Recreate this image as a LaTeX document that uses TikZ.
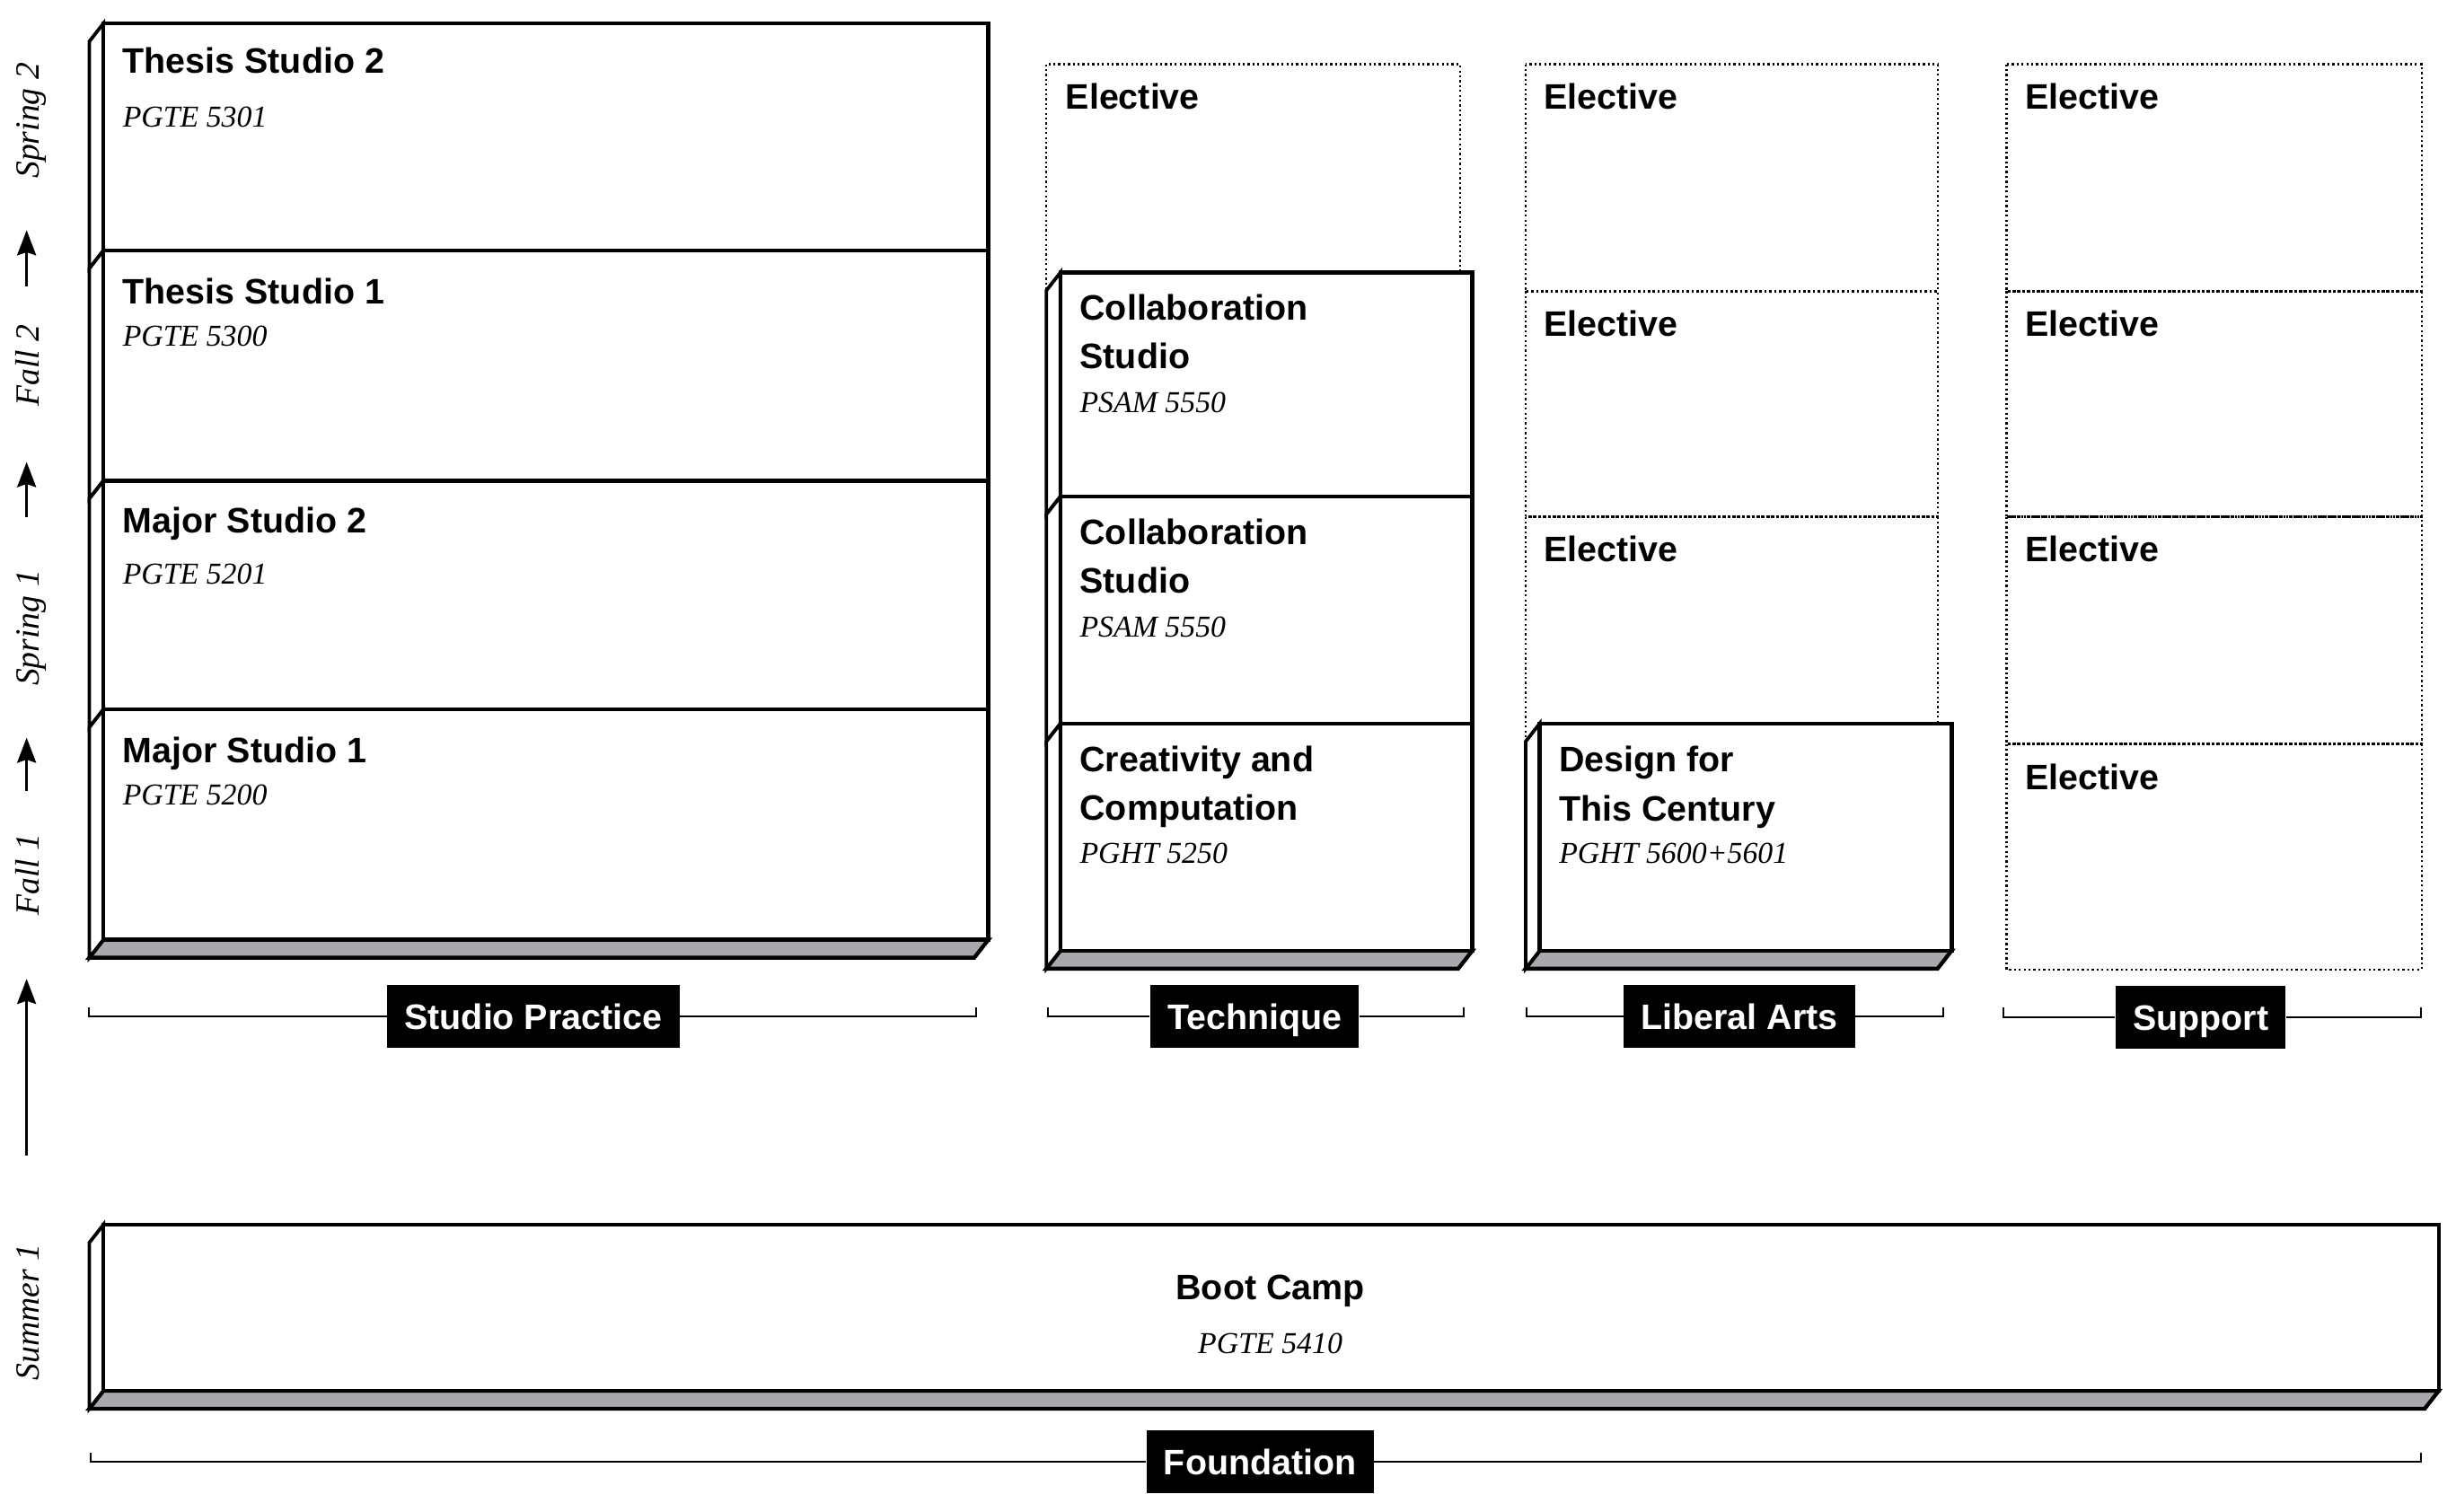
\documentclass[tikz,border=0pt]{standalone}
\usepackage{fontspec}
\setmainfont{Liberation Serif}
\setsansfont{Liberation Sans}
\usetikzlibrary{arrows.meta, calc}
\definecolor{slabgray}{RGB}{167,169,172}
\newcommand{\slabdx}{-9}
\newcommand{\slabdy}{11.5}
\newcommand{\tikzslab}[4]{%
    \filldraw[slabside] (#1, #2) -- (#1, #4) -- ++(\slabdx, \slabdy) -- ++(0, {#2-#4}) -- cycle;
    \filldraw[slabfront] (#1, #2) rectangle (#3, #4);
}
\newcommand{\tikzslabbase}[3]{%
    \filldraw[slabbase] (#1, #3) -- (#2, #3) -- ++(\slabdx, \slabdy) -- ({#1+(\slabdx)}, {#3+\slabdy}) -- cycle;
}
\tikzset{
    slabfront/.style={draw=black, fill=white, line width=1.25pt},
    slabside/.style={draw=black, fill=white, line width=1.1pt},
    slabbase/.style={draw=black, fill=slabgray, line width=1.25pt},
    elective/.style={draw=black, line width=0.65pt, dash pattern=on 0.65pt off 0.9pt},
    course/.style={anchor=base west, inner sep=0pt, font=\sffamily\bfseries\fontsize{11.3}{15.5}\selectfont},
    code/.style={anchor=base west, inner sep=0pt, font=\itshape\fontsize{9.7}{12}\selectfont},
    term/.style={anchor=base, rotate=90, inner sep=0pt, font=\itshape\fontsize{10.8}{12}\selectfont},
    tag/.style={fill=black, text=white, font=\sffamily\bfseries\fontsize{11.3}{13}\selectfont,
        text height=8.1pt, text depth=0pt, minimum height=20pt, inner xsep=5.5pt},
    bracket/.style={line width=0.6pt},
    termarrow/.style={-{Stealth[length=8pt, width=6pt, inset=1pt]}, line width=0.95pt},
}

\begin{document}
\begin{tikzpicture}[x=0.5pt, y=-0.5pt]
            \useasboundingbox (0, 0) rectangle (1568, 965.4);

            \tikzslabbase{66}{631}{600}
            \tikzslab{66}{15}{631}{160}
            \tikzslab{66}{160}{631}{307}
            \tikzslab{66}{307}{631}{453}
            \tikzslab{66}{453}{631}{600}

            \node[course] (ts2) at (78, 47) {Thesis Studio 2};
            \node[code] (ts2-code) at (78, 81) {PGTE 5301};
            \node[course] (ts1) at (78, 194) {Thesis Studio 1};
            \node[code] (ts1-code) at (78, 221) {PGTE 5300};
            \node[course] (ms2) at (78, 340) {Major Studio 2};
            \node[code] (ms2-code) at (78, 373) {PGTE 5201};
            \node[course] (ms1) at (78, 487) {Major Studio 1};
            \node[code] (ms1-code) at (78, 514) {PGTE 5200};

            \draw[elective] (668, 41) rectangle (932, 186);
            \node[course] (tq-el) at (680, 69.5) {Elective};

            \tikzslabbase{677}{940}{607}
            \tikzslab{677}{174}{940}{317}
            \tikzslab{677}{317}{940}{462}
            \tikzslab{677}{462}{940}{607}

            \node[course] (cs1) at (689, 204.5) {Collaboration};
            \node[course] (cs1-b) at (689, 235.5) {Studio};
            \node[code] (cs1-code) at (689, 263.5) {PSAM 5550};
            \node[course] (cs2) at (689, 347.5) {Collaboration};
            \node[course] (cs2-b) at (689, 378.5) {Studio};
            \node[code] (cs2-code) at (689, 406.5) {PSAM 5550};
            \node[course] (cc) at (689, 492.5) {Creativity and};
            \node[course] (cc-b) at (689, 523.5) {Computation};
            \node[code] (cc-code) at (689, 551.5) {PGHT 5250};

            \draw[elective] (974, 41) rectangle (1237, 186);
            \draw[elective] (974, 186) rectangle (1237, 330);
            \draw[elective] (974, 330) rectangle (1237, 475);
            \node[course] (la-el1) at (985.5, 69.5) {Elective};
            \node[course] (la-el2) at (985.5, 214.5) {Elective};
            \node[course] (la-el3) at (985.5, 358.5) {Elective};

            \tikzslabbase{983}{1246}{607}
            \tikzslab{983}{462}{1246}{607}

            \node[course] (dc) at (995, 493) {Design for};
            \node[course] (dc-b) at (995, 524.5) {This Century};
            \node[code] (dc-code) at (995, 551.5) {PGHT 5600+5601};

            \draw[elective] (1281, 41) rectangle (1546, 186);
            \draw[elective] (1281, 186) rectangle (1546, 330);
            \draw[elective] (1281, 330) rectangle (1546, 475);
            \draw[elective] (1281, 475) rectangle (1546, 619);
            \node[course] (su-el1) at (1292.5, 69.5) {Elective};
            \node[course] (su-el2) at (1292.5, 214.5) {Elective};
            \node[course] (su-el3) at (1292.5, 358.5) {Elective};
            \node[course] (su-el4) at (1292.5, 504) {Elective};

            \tikzslabbase{66}{1557}{888}
            \tikzslab{66}{782}{1557}{888}

            \node[course, anchor=base] (bc) at (811, 830) {Boot Camp};
            \node[code, anchor=base] (bc-code) at (811, 864) {PGTE 5410};

            \coordinate (sp-l) at (57, 643);
            \coordinate (sp-r) at (623, 643);
            \coordinate (tq-l) at (669, 643);
            \coordinate (tq-r) at (934.5, 643);
            \coordinate (la-l) at (974.5, 643);
            \coordinate (la-r) at (1240.5, 643);
            \coordinate (su-l) at (1279, 643);
            \coordinate (su-r) at (1545.5, 643);
            \coordinate (fd-l) at (58, 927.5);
            \coordinate (fd-r) at (1545.5, 927.5);

            \node[tag] (sp) at (340.5, 649) {Studio Practice};
            \node[tag] (tq) at (801, 649) {Technique};
            \node[tag] (la) at (1110.5, 649) {Liberal Arts};
            \node[tag] (su) at (1405, 649.5) {Support};
            \node[tag] (fd) at (804.5, 933.5) {Foundation};

            \draw[bracket] (sp-l) |- (sp.west);
            \draw[bracket] (sp.east) -| (sp-r);
            \draw[bracket] (tq-l) |- (tq.west);
            \draw[bracket] (tq.east) -| (tq-r);
            \draw[bracket] (la-l) |- (la.west);
            \draw[bracket] (la.east) -| (la-r);
            \draw[bracket] (su-l) |- (su.west);
            \draw[bracket] (su.east) -| (su-r);
            \draw[bracket] (fd-l) |- (fd.west);
            \draw[bracket] (fd.east) -| (fd-r);

            \node[term] (t-sp2) at (25, 77) {Spring 2};
            \node[term] (t-fa2) at (25, 233.5) {Fall 2};
            \node[term] (t-sp1) at (25, 401) {Spring 1};
            \node[term] (t-fa1) at (25, 558.5) {Fall 1};
            \node[term] (t-su1) at (25, 838) {Summer 1};

            \coordinate (ar1-s) at (17, 183);
            \coordinate (ar1-e) at (17, 147);
            \coordinate (ar2-s) at (17, 330);
            \coordinate (ar2-e) at (17, 295);
            \coordinate (ar3-s) at (17, 505);
            \coordinate (ar3-e) at (17, 471);
            \coordinate (ar4-s) at (17, 738);
            \coordinate (ar4-e) at (17, 625);

            \draw[termarrow] (ar1-s) -- (ar1-e);
            \draw[termarrow] (ar2-s) -- (ar2-e);
            \draw[termarrow] (ar3-s) -- (ar3-e);
            \draw[termarrow] (ar4-s) -- (ar4-e);

        \end{tikzpicture}
\end{document}
